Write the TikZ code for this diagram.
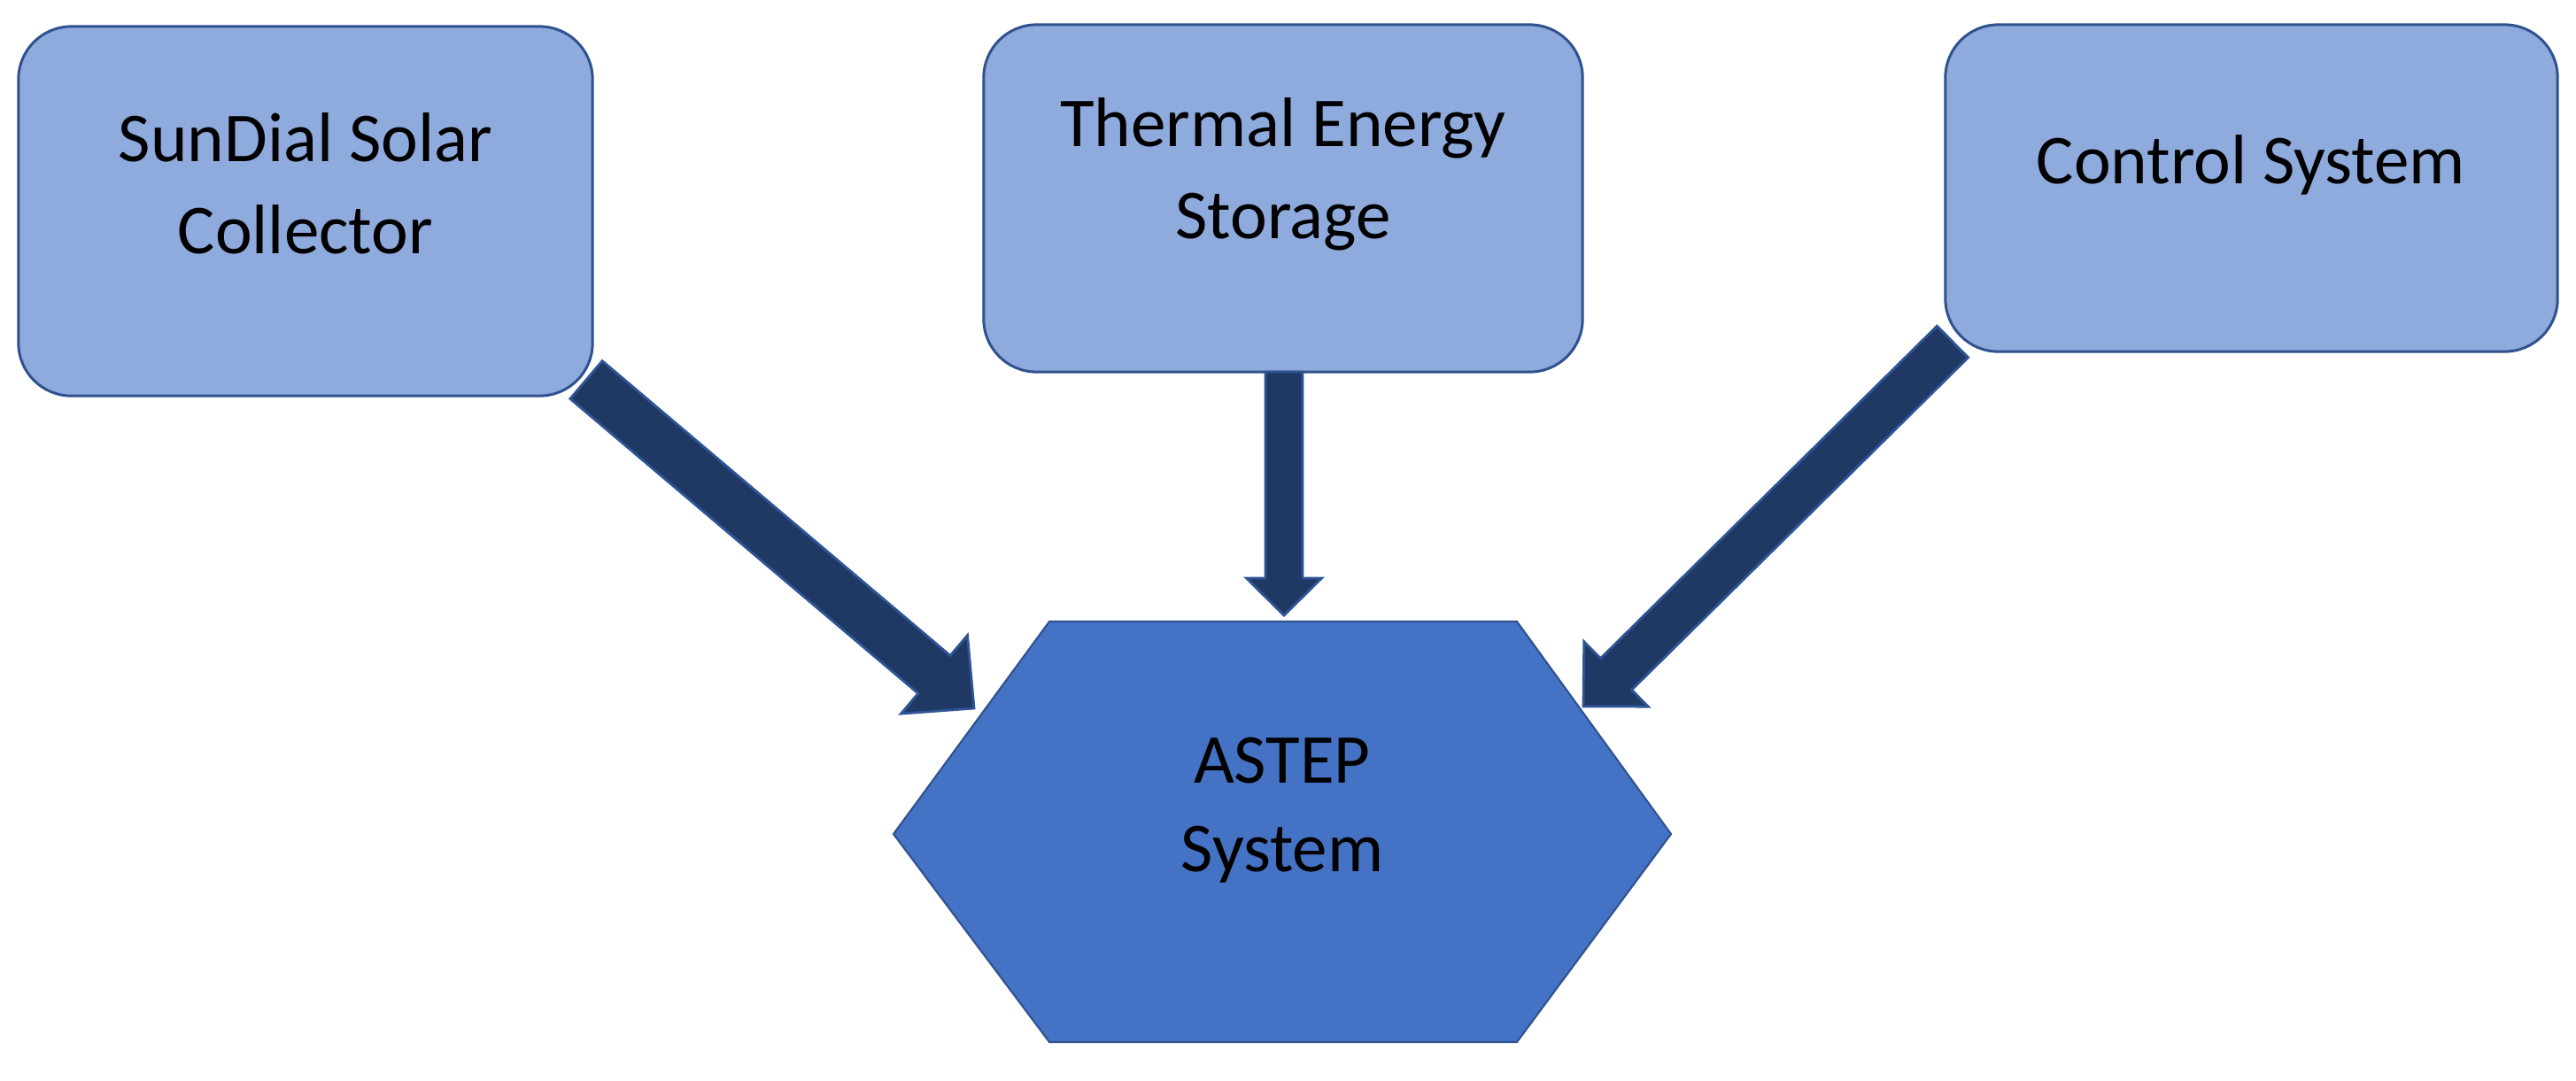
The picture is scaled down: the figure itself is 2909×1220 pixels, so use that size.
\documentclass[tikz,border=0pt]{standalone}
\usepackage{fontspec}
\setmainfont{Carlito}
\usetikzlibrary{calc}
\definecolor{boxfill}{HTML}{8FAADC}
\definecolor{boxline}{HTML}{2F528F}
\definecolor{hexfill}{HTML}{4472C4}
\definecolor{arrfill}{HTML}{203864}
\definecolor{arrline}{HTML}{2F5597}
% #1 tail, #2 tip, #3 shaft half width, #4 head half width, #5 head length
\newcommand\blockarr[5]{%
  \path ($(#2)!#5!(#1)$) coordinate (#1n);
  \draw[blockarrow] ($(#1)!#3!90:(#2)$) -- ($(#1n)!#3!90:(#2)$) -- ($(#1n)!#4!90:(#2)$) -- (#2)
    -- ($(#1n)!#4!-90:(#2)$) -- ($(#1n)!#3!-90:(#2)$) -- ($(#1)!#3!-90:(#2)$) -- cycle;
}
\begin{document}
\begin{tikzpicture}[x=0.01cm,y=-0.01cm,
  box/.style={draw=boxline, fill=boxfill, line width=0.85pt, rounded corners=17pt, inner sep=0pt, outer sep=0pt},
  hexshape/.style={draw=boxline, fill=hexfill, line width=0.6pt, line join=miter},
  blockarrow/.style={draw=arrline, fill=arrfill, line width=0.8pt, line join=miter},
  lbl/.style={inner sep=0pt, anchor=base, text=black, font=\fontsize{22.5}{29.6}\selectfont},
  hexlbl/.style={inner sep=0pt, anchor=base, text=black, font=\fontsize{22.5}{28.7}\selectfont}]
\useasboundingbox (0,0) rectangle (2909,1220);
\fill[white] (0,0) rectangle (2909,1220);

% boxes
\node[box, minimum width=6.48cm, minimum height=4.17cm] (sundial) at (345,238.5) {};
\node[box, minimum width=6.76cm, minimum height=3.92cm] (storage) at (1449,224) {};
\node[box, minimum width=6.91cm, minimum height=3.69cm] (control) at (2542.5,212.5) {};

% hexagon
\draw[hexshape] (1009,942) coordinate (hexW) -- (1185,702) coordinate (hexNW) -- (1713,702) coordinate (hexNE)
  -- (1887,942) coordinate (hexE) -- (1713,1177) coordinate (hexSE) -- (1185,1177) coordinate (hexSW) -- cycle;

% arrow ends
\coordinate (aone) at (662,429);
\coordinate (aonetip) at (1100,800);
\coordinate (atwo) at (1450,420);
\coordinate (atwotip) at (1450,695);
\coordinate (athree) at (2205,386);
\coordinate (athreetip) at (1788,798);

\blockarr{aone}{aonetip}{0.28cm}{0.58cm}{0.59cm}
\blockarr{atwo}{atwotip}{0.21cm}{0.425cm}{0.42cm}
\blockarr{athree}{athreetip}{0.25cm}{0.515cm}{0.52cm}

% labels
\node[lbl] (sundialtxt) at (345,182) {\begin{tabular}[t]{@{}c@{}}SunDial Solar\\Collector\end{tabular}};
\node[lbl] (storagetxt) at (1449,165) {\begin{tabular}[t]{@{}c@{}}Thermal Energy\\Storage\end{tabular}};
\node[lbl] (controltxt) at (2542,207) {Control System};
\node[hexlbl] (astep) at (1448,884) {\begin{tabular}[t]{@{}c@{}}ASTEP\\System\end{tabular}};
\end{tikzpicture}
\end{document}
